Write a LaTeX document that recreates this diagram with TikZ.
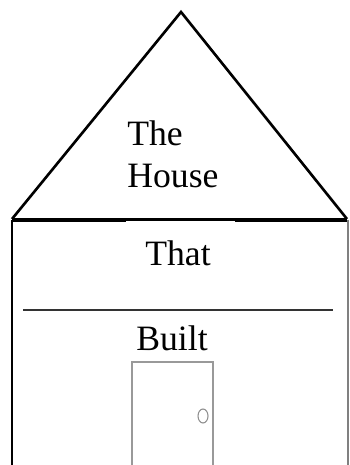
\documentclass[tikz,border=0pt]{standalone}
\usepackage{fontspec}
\setmainfont{Liberation Serif}
\begin{document}
\begin{tikzpicture}[x=0.02cm,y=-0.02cm,
  label/.style={inner sep=0pt,font=\fontsize{20.3}{24}\selectfont},
  thick wall/.style={line width=1.5pt},
  thin wall/.style={line width=0.6pt,gray}]
  \useasboundingbox (0,0) rectangle (349,465);

  \draw [thick wall,line join=miter] (12,219) -- (181,12) -- (347,219);
  \draw [line width=2.8pt] (12,220) -- (126,220);
  \draw [line width=2.8pt] (235,220) -- (347,220);
  \draw [line width=1.4pt] (126,219.5) -- (235,219.5);
  \draw [thick wall] (12,220) -- (12,465);
  \draw [thin wall] (348,220) -- (348,465);
  \draw [line width=1pt,black!80] (23,310) -- (333,310);

  \node [label,anchor=base west] (the) at (127,146) {The};
  \node [label,anchor=base west] (house) at (127,188) {House};
  \node [label,anchor=base] (that) at (178,265) {That};
  \node [label,anchor=base] (built) at (172,350) {Built};

  \draw [thin wall,gray!80] (132,465) -- (132,362) -- (213,362) -- (213,465);
  \draw [thin wall,gray!90] (203,416) ellipse [x radius=5,y radius=7];
\end{tikzpicture}
\end{document}
